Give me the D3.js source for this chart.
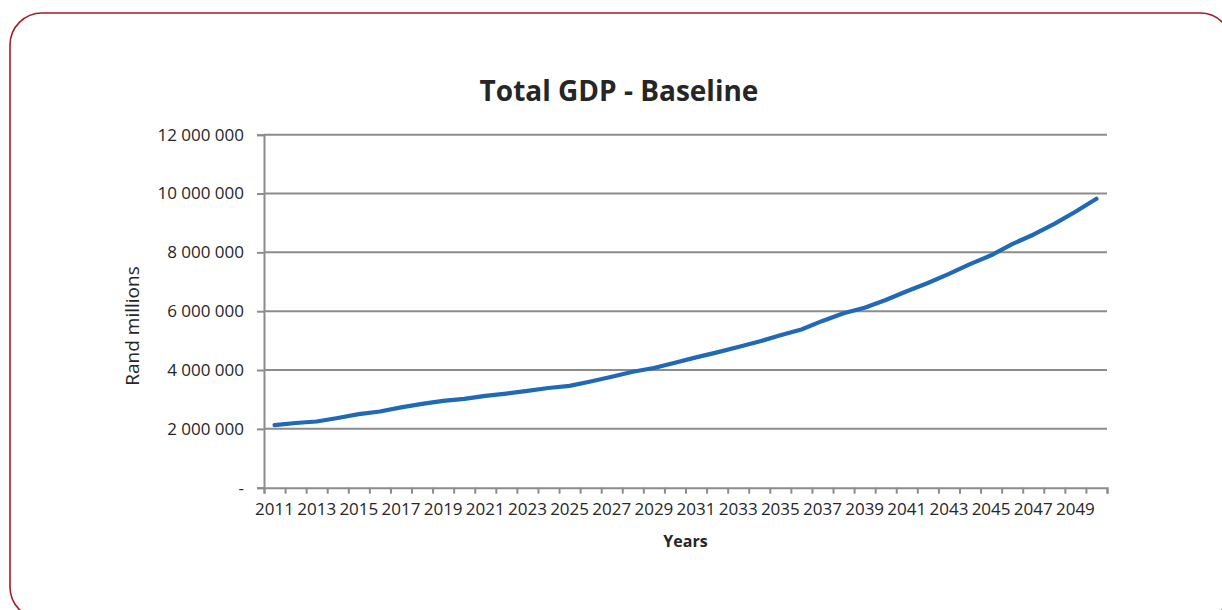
<!DOCTYPE html>
<html>
<head>
<meta charset="utf-8">
<script src="https://cdn.jsdelivr.net/npm/d3@7"></script>
<style>
  html, body { margin: 0; padding: 0; background: #fff; }
  svg { display: block; }
  text { font-family: "Open Sans", "Noto Sans", sans-serif; fill: #262626; }
</style>
</head>
<body>
<svg id="chart" width="1222" height="610"></svg>
<script>
const years = d3.range(2011, 2051);
const gdpValues = [
  2130000, 2200000, 2250000, 2370000, 2500000, 2590000, 2730000, 2850000, 2950000, 3020000,
  3120000, 3200000, 3290000, 3390000, 3460000, 3610000, 3770000, 3940000, 4070000, 4250000,
  4430000, 4600000, 4780000, 4970000, 5180000, 5380000, 5670000, 5930000, 6120000, 6380000,
  6680000, 6960000, 7270000, 7600000, 7900000, 8280000, 8600000, 8970000, 9380000, 9820000
];
const xTickLabels = years.filter(y => (y - 2011) % 2 === 0);
const yTicks = [0, 2000000, 4000000, 6000000, 8000000, 10000000, 12000000];
const titleText = "Total GDP - Baseline";
const xTitle = "Years";
const yTitle = "Rand millions";

const svg = d3.select("#chart");

// rounded border frame
svg.append("rect")
  .attr("x", 10).attr("y", 13)
  .attr("width", 1222).attr("height", 606)
  .attr("rx", 32).attr("ry", 32)
  .attr("fill", "none")
  .attr("stroke", "#a31c26")
  .attr("stroke-width", 1.6);

const plot = { left: 264, right: 1107, top: 134.7, bottom: 487.7 };

const x = d3.scaleBand().domain(years).range([plot.left, plot.right]).padding(0);
const xEdge = d3.scaleLinear().domain([0, years.length]).range([plot.left, plot.right]);
const y = d3.scaleLinear().domain([0, 12000000]).range([plot.bottom, plot.top]);

const gridColor = "#8c8c8c";

// gridlines
svg.append("g")
  .selectAll("line")
  .data(yTicks.filter(d => d > 0))
  .join("line")
  .attr("x1", plot.left).attr("x2", plot.right)
  .attr("y1", d => y(d)).attr("y2", d => y(d))
  .attr("stroke", gridColor)
  .attr("stroke-width", 2);

// y axis
const yAxis = svg.append("g")
  .attr("transform", `translate(${plot.left},0)`)
  .call(d3.axisLeft(y).tickValues(yTicks).tickSize(7).tickPadding(13)
    .tickFormat(d => d === 0 ? "-" : d3.format(",")(d).replace(/,/g, " ")));
yAxis.select(".domain").attr("stroke", gridColor).attr("stroke-width", 2);
yAxis.selectAll(".tick line").attr("stroke", gridColor).attr("stroke-width", 2);
yAxis.selectAll(".tick text").style("font-size", "17px").attr("fill", "#262626");

// x axis: boundary ticks
const xAxisTicks = svg.append("g")
  .attr("transform", `translate(0,${plot.bottom})`)
  .call(d3.axisBottom(xEdge).tickValues(d3.range(0, years.length + 1)).tickSize(6).tickFormat(""));
xAxisTicks.select(".domain").attr("stroke", gridColor).attr("stroke-width", 2);
xAxisTicks.selectAll(".tick line").attr("stroke", gridColor).attr("stroke-width", 2);

// x axis labels
const xAxisLabels = svg.append("g")
  .attr("transform", `translate(0,${plot.bottom})`)
  .call(d3.axisBottom(x).tickValues(xTickLabels).tickSize(0).tickPadding(15));
xAxisLabels.select(".domain").remove();
xAxisLabels.selectAll(".tick text").style("font-size", "17px").attr("fill", "#262626");

// line
const line = d3.line()
  .x((d, i) => x(years[i]) + x.bandwidth() / 2)
  .y(d => y(d));
svg.append("path")
  .datum(gdpValues)
  .attr("d", line)
  .attr("fill", "none")
  .attr("stroke", "#1f69b6")
  .attr("stroke-width", 4.2)
  .attr("stroke-linejoin", "round")
  .attr("stroke-linecap", "round");

// titles
svg.append("text")
  .attr("x", 619).attr("y", 101)
  .attr("text-anchor", "middle")
  .style("font-size", "28px").style("font-weight", "bold")
  .attr("fill", "#000")
  .text(titleText);

svg.append("text")
  .attr("x", (plot.left + plot.right) / 2).attr("y", 547)
  .attr("text-anchor", "middle")
  .style("font-size", "16px").style("font-weight", "bold")
  .attr("fill", "#000")
  .text(xTitle);

svg.append("text")
  .attr("transform", "translate(139,326) rotate(-90)")
  .attr("text-anchor", "middle")
  .style("font-size", "19px")
  .attr("fill", "#000")
  .text(yTitle);
</script>
</body>
</html>
